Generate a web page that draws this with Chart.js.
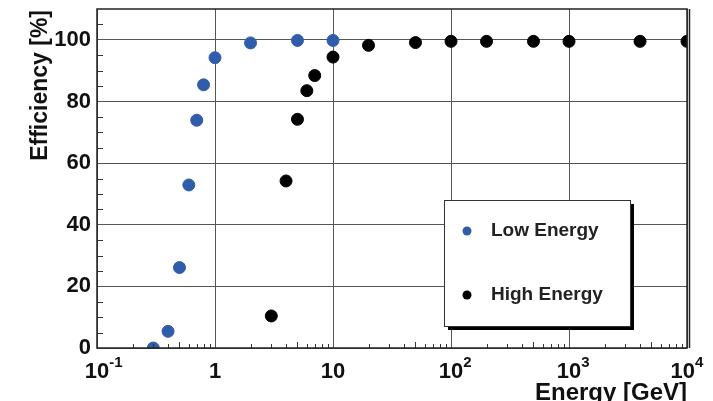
<!DOCTYPE html>
<html>
<head>
<meta charset="utf-8">
<script src="https://cdn.jsdelivr.net/npm/chart.js@4"></script>
<style>
  html, body { margin: 0; padding: 0; background: #fff; }
  #wrap { width: 713px; height: 401px; position: relative; }
</style>
</head>
<body>
<div id="wrap"><canvas id="eff"></canvas></div>
<script>
// energy points [GeV] and efficiency [%] for each selection
const lowEnergyE   = [0.3, 0.4, 0.5, 0.6, 0.7, 0.8, 1, 2, 5, 10];
const lowEnergyEff = [0.0, 5.4, 26.1, 52.9, 73.9, 85.4, 94.2, 99.0, 99.8, 99.8];

const highEnergyE   = [3, 4, 5, 6, 7, 10, 20, 50, 100, 200, 500, 1000, 4000, 10000];
const highEnergyEff = [10.4, 54.2, 74.2, 83.5, 88.4, 94.4, 98.2, 99.1, 99.5, 99.5, 99.5, 99.5, 99.5, 99.5];

const seriesNames = ['Low Energy', 'High Energy'];
const seriesColors = ['#2f5daa', '#000000'];

// decade ticks: mantissa and exponent shown as superscript ('' = none)
const xTickValues = [0.1, 1, 10, 100, 1000, 10000];
const xTickBase   = ['10', '1', '10', '10', '10', '10'];
const xTickExp    = ['-1', '', '', '2', '3', '4'];
const yTickValues = [0, 20, 40, 60, 80, 100];

const toPoints = (xs, ys) => xs.map((x, i) => ({ x: x, y: ys[i] }));

const boldFont = '"Liberation Sans", Arial, sans-serif';

// frame, minor ticks, x labels with exponents, axis titles and the boxed legend
const rootStyle = {
  id: 'rootStyle',
  afterDraw(chart) {
    const { ctx, chartArea: a, scales } = chart;
    const xs = scales.x, ys = scales.y;
    ctx.save();

    // minor ticks on the left axis every 5 %
    ctx.strokeStyle = '#333';
    ctx.lineWidth = 1;
    ctx.beginPath();
    for (let v = 5; v < 110; v += 5) {
      if (v % 20 === 0) continue;
      const py = Math.round(ys.getPixelForValue(v)) + 0.5;
      ctx.moveTo(a.left, py);
      ctx.lineTo(a.left + 6, py);
    }
    // minor ticks on the bottom axis at 2..9 of each decade
    for (let d = 0.1; d < 10000; d *= 10) {
      for (let m = 2; m <= 9; m++) {
        const px = Math.round(xs.getPixelForValue(d * m)) + 0.5;
        ctx.moveTo(px, a.bottom);
        ctx.lineTo(px, a.bottom - (m === 5 ? 6 : 4));
      }
    }
    ctx.stroke();

    // frame
    ctx.strokeStyle = '#222';
    ctx.lineWidth = 1.5;
    ctx.strokeRect(a.left, a.top, a.right - a.left, a.bottom - a.top);
    ctx.beginPath();
    ctx.moveTo(a.right + 2.5, a.top);
    ctx.lineTo(a.right + 2.5, a.bottom);
    ctx.stroke();

    // x tick labels, 10 with raised exponent
    ctx.fillStyle = '#111';
    ctx.textBaseline = 'alphabetic';
    xTickValues.forEach((v, i) => {
      const px = xs.getPixelForValue(v);
      ctx.font = 'bold 22px ' + boldFont;
      const wb = ctx.measureText(xTickBase[i]).width;
      ctx.font = 'bold 15px ' + boldFont;
      const we = xTickExp[i] ? ctx.measureText(xTickExp[i]).width : 0;
      let x0 = px - wb / 2;
      if (i === xTickValues.length - 1) x0 = px - (wb + we) / 2;
      ctx.font = 'bold 22px ' + boldFont;
      ctx.textAlign = 'left';
      ctx.fillText(xTickBase[i], x0, 378);
      if (xTickExp[i]) {
        ctx.font = 'bold 15px ' + boldFont;
        ctx.fillText(xTickExp[i], x0 + wb, 367);
      }
    });

    // axis titles
    ctx.font = 'bold 24px ' + boldFont;
    ctx.textAlign = 'right';
    ctx.fillText('Energy [GeV]', a.right, 400);
    ctx.save();
    ctx.translate(47, a.top + 1);
    ctx.rotate(-Math.PI / 2);
    ctx.font = 'bold 23px ' + boldFont;
    ctx.textAlign = 'right';
    ctx.fillText('Efficiency [%]', 0, 0);
    ctx.restore();

    // legend box with drop shadow
    const bx = 444, by = 200, bw = 186, bh = 126;
    ctx.fillStyle = '#000';
    ctx.fillRect(bx + 4, by + 4, bw, bh);
    ctx.fillStyle = '#fff';
    ctx.fillRect(bx, by, bw, bh);
    ctx.strokeStyle = '#333';
    ctx.lineWidth = 1;
    ctx.strokeRect(bx + 0.5, by + 0.5, bw, bh);
    chart.data.datasets.forEach((ds, i) => {
      const ly = by + 31 + i * 64;
      ctx.fillStyle = ds.backgroundColor;
      ctx.beginPath();
      ctx.arc(bx + 23, ly, 4.5, 0, Math.PI * 2);
      ctx.fill();
      ctx.fillStyle = '#222';
      ctx.font = 'bold 19px ' + boldFont;
      ctx.textAlign = 'left';
      ctx.textBaseline = 'middle';
      ctx.fillText(ds.label, bx + 47, ly);
    });
    ctx.restore();
  }
};

new Chart(document.getElementById('eff'), {
  type: 'scatter',
  data: {
    datasets: [
      {
        label: seriesNames[0],
        data: toPoints(lowEnergyE, lowEnergyEff),
        backgroundColor: seriesColors[0],
        borderColor: seriesColors[0],
        pointRadius: 6,
        pointHoverRadius: 6
      },
      {
        label: seriesNames[1],
        data: toPoints(highEnergyE, highEnergyEff),
        backgroundColor: seriesColors[1],
        borderColor: seriesColors[1],
        pointRadius: 6,
        pointHoverRadius: 6
      }
    ]
  },
  options: {
    responsive: true,
    maintainAspectRatio: false,
    animation: false,
    layout: { padding: { top: 9, right: 26, left: 0, bottom: 0 } },
    plugins: { legend: { display: false }, tooltip: { enabled: false } },
    scales: {
      x: {
        type: 'logarithmic',
        min: 0.1,
        max: 10000,
        afterBuildTicks: (s) => { s.ticks = xTickValues.map(v => ({ value: v })); },
        afterFit: (s) => { s.height = 53; s.paddingLeft = 0; s.paddingRight = 0; },
        ticks: { display: false },
        border: { display: false },
        grid: { color: '#555', lineWidth: 1, drawTicks: false }
      },
      y: {
        min: 0,
        max: 110,
        afterBuildTicks: (s) => { s.ticks = yTickValues.map(v => ({ value: v })); },
        afterFit: (s) => { s.width = 97; s.paddingTop = 0; s.paddingBottom = 0; },
        ticks: {
          color: '#111',
          padding: 6,
          font: { family: boldFont, size: 22, weight: 'bold' }
        },
        border: { display: false },
        grid: { color: '#555', lineWidth: 1, drawTicks: false }
      }
    }
  },
  plugins: [rootStyle]
});
</script>
</body>
</html>
